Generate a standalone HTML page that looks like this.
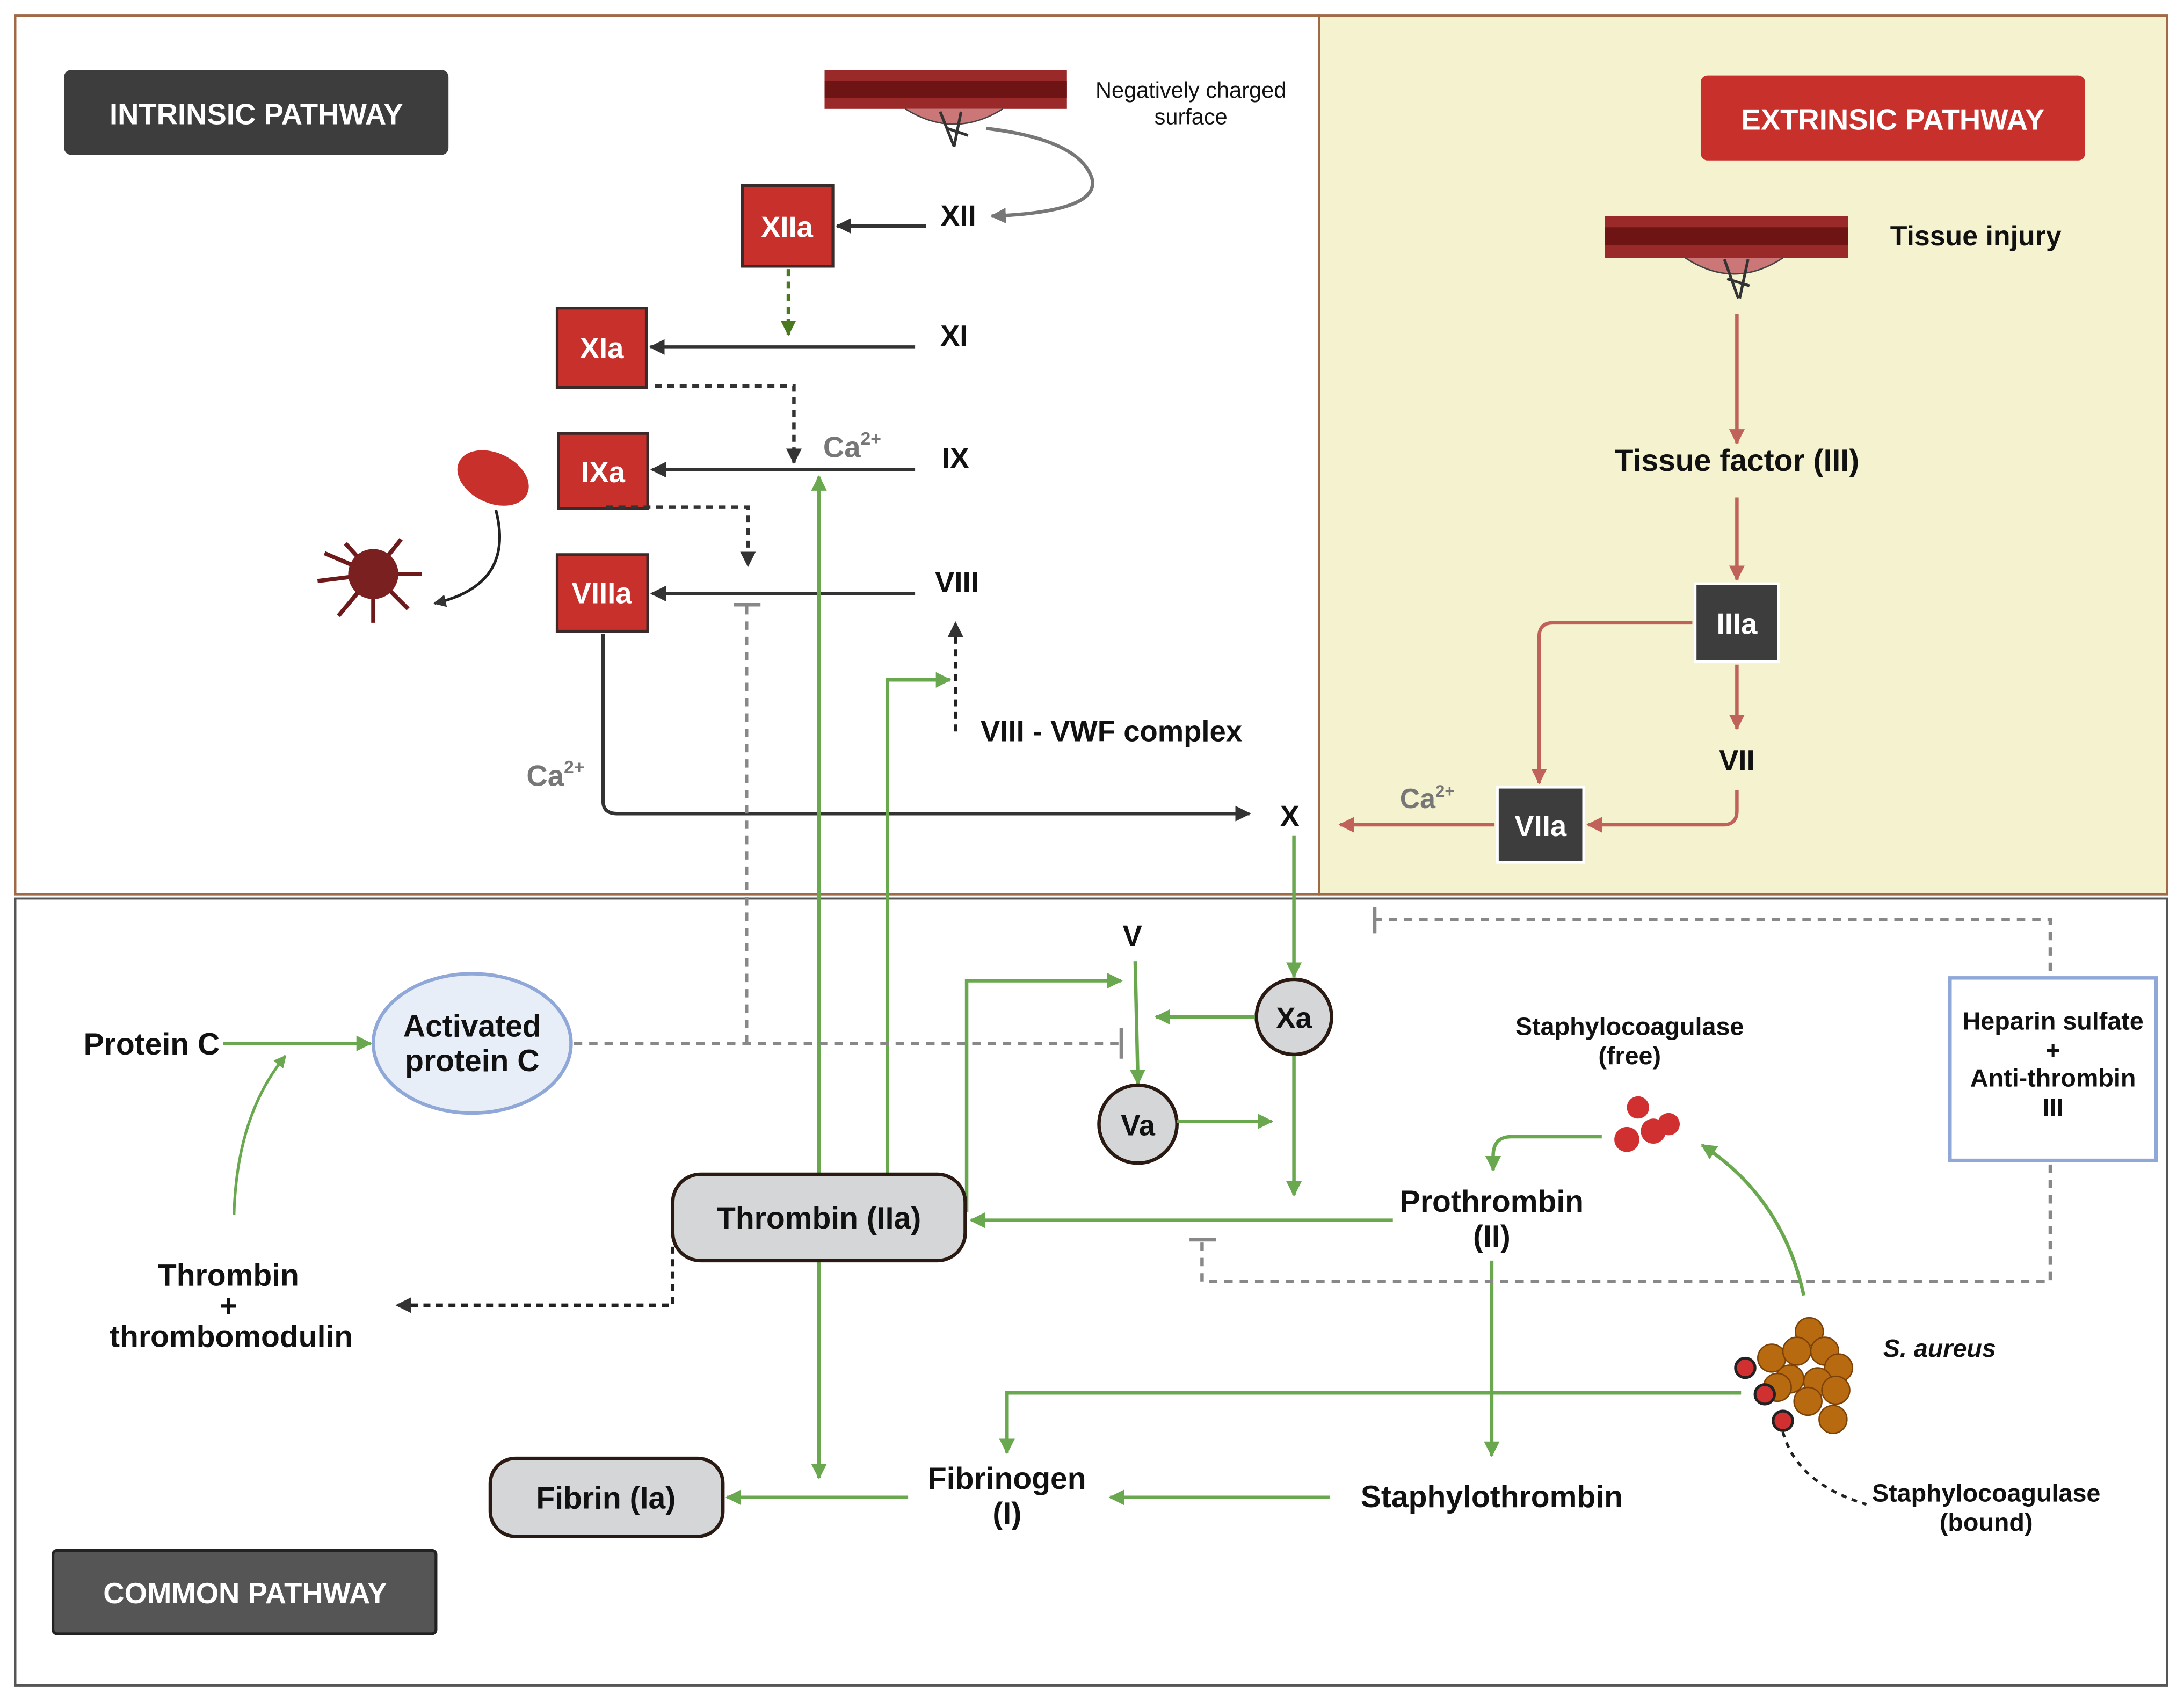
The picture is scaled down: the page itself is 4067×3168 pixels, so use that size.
<!DOCTYPE html>
<html><head><meta charset="utf-8"><style>
html,body{margin:0;padding:0;background:#fff;}
svg{display:block;}
text{font-family:"Liberation Sans",sans-serif;font-weight:bold;fill:#111;}
</style></head><body>
<svg width="4067" height="3168" viewBox="0 0 1568 1221" xmlns="http://www.w3.org/2000/svg">
<defs>
<marker id="ag" viewBox="0 0 10 10" refX="9" refY="5" markerWidth="4.5" markerHeight="4.5" orient="auto"><path d="M0,0L10,5L0,10z" fill="#6aa84f"/></marker>
<marker id="ak" viewBox="0 0 10 10" refX="9" refY="5" markerWidth="4.5" markerHeight="4.5" orient="auto"><path d="M0,0L10,5L0,10z" fill="#333"/></marker>
<marker id="ar" viewBox="0 0 10 10" refX="9" refY="5" markerWidth="4.5" markerHeight="4.5" orient="auto"><path d="M0,0L10,5L0,10z" fill="#c0625a"/></marker>
<marker id="agr" viewBox="0 0 10 10" refX="9" refY="5" markerWidth="4.5" markerHeight="4.5" orient="auto"><path d="M0,0L10,5L0,10z" fill="#777"/></marker>
<marker id="adg" viewBox="0 0 10 10" refX="9" refY="5" markerWidth="4.5" markerHeight="4.5" orient="auto"><path d="M0,0L10,5L0,10z" fill="#4a7a20"/></marker>
</defs>
<rect x="947" y="11" width="609" height="631" fill="#f5f2cf" stroke="#a06a45" stroke-width="1.5"/>
<rect x="11" y="11" width="936" height="631" fill="#fff" stroke="#a06a45" stroke-width="1.5"/>
<rect x="11" y="645" width="1545" height="565" fill="#fff" stroke="#555" stroke-width="1.5"/>
<rect x="46" y="50" width="276" height="61" rx="5" fill="#3d3d3d"/>
<text x="184" y="89" font-size="21" text-anchor="middle" style="fill:#fff">INTRINSIC PATHWAY</text>
<rect x="1221" y="54" width="276" height="61" rx="5" fill="#c8302c"/>
<text x="1359" y="93" font-size="21" text-anchor="middle" style="fill:#fff">EXTRINSIC PATHWAY</text>
<rect x="38" y="1113" width="275" height="60" rx="3" fill="#555" stroke="#222" stroke-width="2"/>
<text x="176" y="1151" font-size="21" text-anchor="middle" style="fill:#fff">COMMON  PATHWAY</text>
<g>
<rect x="592" y="50" width="174" height="28" fill="#9a2a2a"/><rect x="592" y="58" width="174" height="12" fill="#6e1414"/>
<path d="M650,78 Q685,100 720,78" fill="#c77" stroke="#444"/><path d="M675,80l10,25M690,80l-5,25M680,92l15,5" stroke="#333" stroke-width="2"/>
<rect x="1152" y="155" width="175" height="30" fill="#9a2a2a"/><rect x="1152" y="163" width="175" height="13" fill="#6e1414"/>
<path d="M1210,185 Q1245,208 1280,185" fill="#c77" stroke="#444"/><path d="M1238,186l10,28M1255,186l-6,28M1240,200l16,5" stroke="#333" stroke-width="2"/>
</g>
<text x="855" y="70" font-size="16" text-anchor="middle" style="font-weight:normal">Negatively charged</text>
<text x="855" y="89" font-size="16" text-anchor="middle" style="font-weight:normal">surface</text>
<text x="1357" y="176" font-size="20">Tissue injury</text>
<g fill="#c8302c" stroke="#3a2a2a" stroke-width="2">
<rect x="533" y="133" width="65" height="58"/><rect x="400" y="221" width="64" height="57"/><rect x="401" y="311" width="64" height="54"/><rect x="400" y="398" width="65" height="55"/>
</g>
<g font-size="21" text-anchor="middle">
<text x="565" y="170" style="fill:#fff">XIIa</text><text x="432" y="257" style="fill:#fff">XIa</text><text x="433" y="346" style="fill:#fff">IXa</text><text x="432" y="433" style="fill:#fff">VIIIa</text>
</g>
<g font-size="21" text-anchor="middle">
<text x="688" y="162">XII</text><text x="685" y="248">XI</text><text x="686" y="336">IX</text><text x="687" y="425">VIII</text>
<text x="926" y="593">X</text><text x="813" y="679">V</text>
</g>
<path d="M708,92 Q775,100 784,128 Q790,152 712,155" fill="none" stroke="#777" stroke-width="2.5" marker-end="url(#agr)"/>
<path d="M665,162H601" stroke="#333" stroke-width="2.5" marker-end="url(#ak)"/>
<path d="M566,193V240" stroke="#4a7a20" stroke-width="2.5" stroke-dasharray="5,4" marker-end="url(#adg)"/>
<path d="M657,249H467" stroke="#333" stroke-width="2.5" marker-end="url(#ak)"/>
<path d="M657,337H468" stroke="#333" stroke-width="2.5" marker-end="url(#ak)"/>
<path d="M657,426H468" stroke="#333" stroke-width="2.5" marker-end="url(#ak)"/>
<path d="M470,277H570V332" fill="none" stroke="#333" stroke-width="2.5" stroke-dasharray="5,4" marker-end="url(#ak)"/>
<path d="M435,364H537V406" fill="none" stroke="#333" stroke-width="2.5" stroke-dasharray="5,4" marker-end="url(#ak)"/>
<path d="M433,455V575Q433,584 443,584H897" fill="none" stroke="#333" stroke-width="2.5" marker-end="url(#ak)"/>
<text x="378" y="564" font-size="21" style="fill:#777">Ca<tspan font-size="13" dy="-9">2+</tspan></text>
<text x="591" y="328" font-size="21" style="fill:#777">Ca<tspan font-size="13" dy="-9">2+</tspan></text>
<path d="M686,525V447" stroke="#222" stroke-width="2.5" stroke-dasharray="5,4" marker-end="url(#ak)"/>
<text x="704" y="532" font-size="21">VIII - VWF complex</text>
<ellipse cx="354" cy="343" rx="27" ry="18" fill="#c8302c" transform="rotate(25 354 343)"/>
<path d="M356,366 Q370,420 312,433" fill="none" stroke="#222" stroke-width="2" marker-end="url(#ak)"/>
<g stroke="#6e1a1a" stroke-width="3" fill="none"><path d="M268,412l-20,-22M268,412l20,-25M268,412l35,0M268,412l25,25M268,412l0,35M268,412l-25,30M268,412l-40,5M268,412l-35,-15"/></g>
<circle cx="268" cy="412" r="18" fill="#7a2020"/>
<path d="M1247,225V318" stroke="#c0625a" stroke-width="2.5" marker-end="url(#ar)"/>
<text x="1247" y="338" font-size="22" text-anchor="middle">Tissue factor (III)</text>
<path d="M1247,357V416" stroke="#c0625a" stroke-width="2.5" marker-end="url(#ar)"/>
<rect x="1217" y="419" width="60" height="56" fill="#3d3d3d" stroke="#fff" stroke-width="2"/>
<text x="1247" y="455" font-size="21" text-anchor="middle" style="fill:#fff">IIIa</text>
<path d="M1247,477V523" stroke="#c0625a" stroke-width="2.5" marker-end="url(#ar)"/>
<text x="1247" y="553" font-size="21" text-anchor="middle">VII</text>
<path d="M1215,447H1115Q1105,447 1105,457V562" fill="none" stroke="#c0625a" stroke-width="2.5" marker-end="url(#ar)"/>
<path d="M1247,567V582Q1247,592 1237,592H1140" fill="none" stroke="#c0625a" stroke-width="2.5" marker-end="url(#ar)"/>
<rect x="1075" y="565" width="62" height="54" fill="#3d3d3d" stroke="#fff" stroke-width="2"/>
<text x="1106" y="600" font-size="21" text-anchor="middle" style="fill:#fff">VIIa</text>
<path d="M1073,592H962" stroke="#c0625a" stroke-width="2.5" marker-end="url(#ar)"/>
<text x="1005" y="580" font-size="20" style="fill:#777">Ca<tspan font-size="12" dy="-8">2+</tspan></text>
<path d="M929,600V701" stroke="#6aa84f" stroke-width="2.5" marker-end="url(#ag)"/>
<circle cx="929" cy="730" r="27" fill="#d4d6d8" stroke="#2a1a12" stroke-width="2.5"/>
<text x="929" y="738" font-size="21" text-anchor="middle">Xa</text>
<path d="M901,730H830" stroke="#6aa84f" stroke-width="2.5" marker-end="url(#ag)"/>
<path d="M929,758V858" stroke="#6aa84f" stroke-width="2.5" marker-end="url(#ag)"/>
<path d="M815,690L817,778" stroke="#6aa84f" stroke-width="2.5" marker-end="url(#ag)"/>
<circle cx="817" cy="807" r="28" fill="#d4d6d8" stroke="#2a1a12" stroke-width="2.5"/>
<text x="817" y="815" font-size="21" text-anchor="middle">Va</text>
<path d="M845,805H913" stroke="#6aa84f" stroke-width="2.5" marker-end="url(#ag)"/>
<path d="M694,870V704H805" fill="none" stroke="#6aa84f" stroke-width="2.5" marker-end="url(#ag)"/>
<path d="M588,843V342" stroke="#6aa84f" stroke-width="2.5" marker-end="url(#ag)"/>
<path d="M637,843V488H682" fill="none" stroke="#6aa84f" stroke-width="2.5" marker-end="url(#ag)"/>
<path d="M588,906V1061" stroke="#6aa84f" stroke-width="2.5" marker-end="url(#ag)"/>
<rect x="483" y="843" width="210" height="62" rx="20" fill="#d4d6d8" stroke="#2a1a12" stroke-width="2.5"/>
<text x="588" y="882" font-size="22" text-anchor="middle">Thrombin (IIa)</text>
<path d="M1000,876H697" stroke="#6aa84f" stroke-width="2.5" marker-end="url(#ag)"/>
<text x="1071" y="870" font-size="22" text-anchor="middle">Prothrombin</text>
<text x="1071" y="895" font-size="22" text-anchor="middle">(II)</text>
<path d="M1071,905V1045" stroke="#6aa84f" stroke-width="2.5" marker-end="url(#ag)"/>
<text x="1071" y="1082" font-size="22" text-anchor="middle">Staphylothrombin</text>
<path d="M955,1075H797" stroke="#6aa84f" stroke-width="2.5" marker-end="url(#ag)"/>
<text x="723" y="1069" font-size="22" text-anchor="middle">Fibrinogen</text>
<text x="723" y="1094" font-size="22" text-anchor="middle">(I)</text>
<path d="M652,1075H522" stroke="#6aa84f" stroke-width="2.5" marker-end="url(#ag)"/>
<rect x="352" y="1047" width="167" height="56" rx="18" fill="#d4d6d8" stroke="#2a1a12" stroke-width="2.5"/>
<text x="435" y="1083" font-size="22" text-anchor="middle">Fibrin (Ia)</text>
<path d="M1250,1000H723V1043" fill="none" stroke="#6aa84f" stroke-width="2.5" marker-end="url(#ag)"/>
<text x="60" y="757" font-size="22">Protein C</text>
<path d="M160,749H266" stroke="#6aa84f" stroke-width="2.5" marker-end="url(#ag)"/>
<ellipse cx="339" cy="749" rx="71" ry="50" fill="#e8eef8" stroke="#8fa8d8" stroke-width="2.5"/>
<text x="339" y="744" font-size="22" text-anchor="middle">Activated</text>
<text x="339" y="769" font-size="22" text-anchor="middle">protein C</text>
<path d="M168,872Q170,800 205,758" fill="none" stroke="#6aa84f" stroke-width="2" marker-end="url(#ag)"/>
<text x="164" y="923" font-size="22" text-anchor="middle">Thrombin</text>
<text x="164" y="945" font-size="22" text-anchor="middle">+</text>
<text x="166" y="967" font-size="22" text-anchor="middle">thrombomodulin</text>
<path d="M483,895V937H285" fill="none" stroke="#222" stroke-width="2.5" stroke-dasharray="5,4" marker-end="url(#ak)"/>
<g fill="none" stroke="#888" stroke-width="2.5" stroke-dasharray="6,5">
<path d="M412,749H805"/><path d="M536,749V435"/>
<path d="M1472,697V660H987"/><path d="M1472,836V920H863V892"/>
</g>
<g stroke="#888" stroke-width="2.5"><path d="M805,738V760"/><path d="M527,434H546"/><path d="M987,651V670"/><path d="M854,890H873"/></g>
<rect x="1400" y="702" width="148" height="131" fill="#fff" stroke="#8fa8d8" stroke-width="2.5"/>
<text x="1474" y="739" font-size="18" text-anchor="middle">Heparin sulfate</text>
<text x="1474" y="760" font-size="18" text-anchor="middle">+</text>
<text x="1474" y="780" font-size="18" text-anchor="middle">Anti-thrombin</text>
<text x="1474" y="801" font-size="18" text-anchor="middle">III</text>
<text x="1170" y="743" font-size="18" text-anchor="middle">Staphylocoagulase</text>
<text x="1170" y="764" font-size="18" text-anchor="middle">(free)</text>
<g fill="#d03030"><circle cx="1176" cy="795" r="8"/><circle cx="1168" cy="818" r="9"/><circle cx="1187" cy="812" r="9"/><circle cx="1198" cy="807" r="8"/></g>
<path d="M1150,816H1085Q1072,816 1072,830V840" fill="none" stroke="#6aa84f" stroke-width="2.5" marker-end="url(#ag)"/>
<path d="M1295,930Q1280,860 1222,822" fill="none" stroke="#6aa84f" stroke-width="2.5" marker-end="url(#ag)"/>
<g fill="#b86a10" stroke="#7a4208"><circle cx="1299" cy="956" r="10"/><circle cx="1272" cy="975" r="10"/><circle cx="1290" cy="970" r="10"/><circle cx="1310" cy="970" r="10"/><circle cx="1320" cy="982" r="10"/><circle cx="1285" cy="990" r="10"/><circle cx="1305" cy="992" r="10"/><circle cx="1318" cy="998" r="10"/><circle cx="1298" cy="1006" r="10"/><circle cx="1316" cy="1019" r="10"/><circle cx="1276" cy="996" r="10"/></g>
<g fill="#d03030" stroke="#222" stroke-width="2"><circle cx="1253" cy="982" r="7"/><circle cx="1267" cy="1001" r="7"/><circle cx="1280" cy="1020" r="7"/></g>
<text x="1352" y="974" font-size="18" style="font-style:italic">S. aureus</text>
<path d="M1280,1028Q1290,1065 1340,1080" fill="none" stroke="#222" stroke-width="2" stroke-dasharray="4,4"/>
<text x="1426" y="1078" font-size="18" text-anchor="middle">Staphylocoagulase</text>
<text x="1426" y="1099" font-size="18" text-anchor="middle">(bound)</text>
</svg>
</body></html>
